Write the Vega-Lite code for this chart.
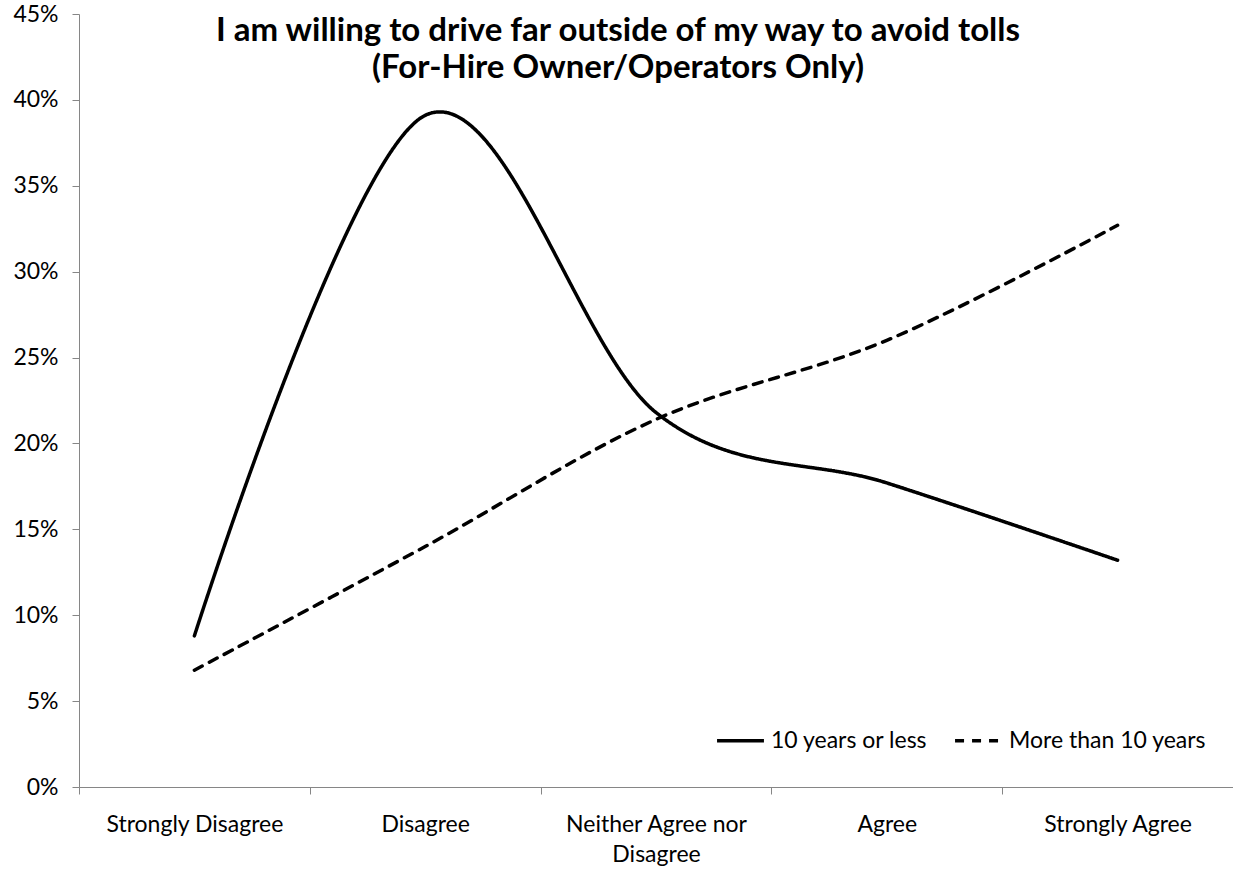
{
  "$schema": "https://vega.github.io/schema/vega-lite/v6.json",
  "width": 1154,
  "height": 773,
  "autosize": "none",
  "padding": {"left": 79, "top": 14, "right": 0, "bottom": 84},
  "background": "white",
  "title": {
    "text": ["I am willing to drive far outside of my way to avoid tolls", "(For-Hire Owner/Operators Only)"],
    "font": "Lato",
    "fontSize": 33,
    "fontWeight": "bold",
    "color": "black",
    "anchor": "middle",
    "frame": "group",
    "baseline": "alphabetic",
    "lineHeight": 37,
    "offset": 0,
    "dx": -38,
    "dy": 108
  },
  "data": {
    "values": [
      {"response": "Strongly Disagree", "group": "10 years or less", "pct": 0.088},
      {"response": "Disagree", "group": "10 years or less", "pct": 0.391},
      {"response": "Neither Agree nor Disagree", "group": "10 years or less", "pct": 0.218},
      {"response": "Agree", "group": "10 years or less", "pct": 0.177},
      {"response": "Strongly Agree", "group": "10 years or less", "pct": 0.132},
      {"response": "Strongly Disagree", "group": "More than 10 years", "pct": 0.068},
      {"response": "Disagree", "group": "More than 10 years", "pct": 0.140},
      {"response": "Neither Agree nor Disagree", "group": "More than 10 years", "pct": 0.214},
      {"response": "Agree", "group": "More than 10 years", "pct": 0.260},
      {"response": "Strongly Agree", "group": "More than 10 years", "pct": 0.327}
    ]
  },
  "mark": {
    "type": "line",
    "interpolate": "cardinal",
    "tension": 0,
    "strokeWidth": 3.5,
    "strokeCap": "round",
    "color": "black"
  },
  "encoding": {
    "x": {
      "field": "response",
      "type": "nominal",
      "sort": ["Strongly Disagree", "Disagree", "Neither Agree nor Disagree", "Agree", "Strongly Agree"],
      "bandPosition": 0.5,
      "scale": {"type": "band", "paddingInner": 0, "paddingOuter": 0},
      "axis": {
        "title": null,
        "labelAngle": 0,
        "tickBand": "extent",
        "labelExpr": "datum.label == 'Neither Agree nor Disagree' ? ['Neither Agree nor', 'Disagree'] : datum.label",
        "labelLineHeight": 30,
        "labelPadding": 19,
        "labelLimit": 400,
        "labelBaseline": "top"
      }
    },
    "y": {
      "field": "pct",
      "type": "quantitative",
      "scale": {"domain": [0, 0.45], "nice": false},
      "axis": {
        "title": null,
        "format": ".0%",
        "values": [0, 0.05, 0.1, 0.15, 0.2, 0.25, 0.3, 0.35, 0.4, 0.45],
        "labelPadding": 14
      }
    },
    "strokeDash": {
      "field": "group",
      "type": "nominal",
      "scale": {"domain": ["10 years or less", "More than 10 years"], "range": [[1, 0], [9, 8]]},
      "legend": {
        "title": null,
        "orient": "none",
        "legendX": 636,
        "legendY": 701,
        "direction": "horizontal",
        "symbolType": "stroke",
        "symbolSize": 2200,
        "symbolStrokeWidth": 3.5,
        "symbolStrokeColor": "black",
        "labelOffset": 5,
        "labelLimit": 400,
        "columnPadding": 20,
        "padding": 0
      }
    }
  },
  "config": {
    "view": {"stroke": null},
    "font": "Lato",
    "axis": {
      "grid": false,
      "domainColor": "#868686",
      "tickColor": "#868686",
      "tickSize": 7,
      "labelFont": "Lato",
      "labelFontSize": 23,
      "labelColor": "black"
    },
    "legend": {
      "labelFont": "Lato",
      "labelFontSize": 23,
      "labelColor": "black"
    }
  }
}
